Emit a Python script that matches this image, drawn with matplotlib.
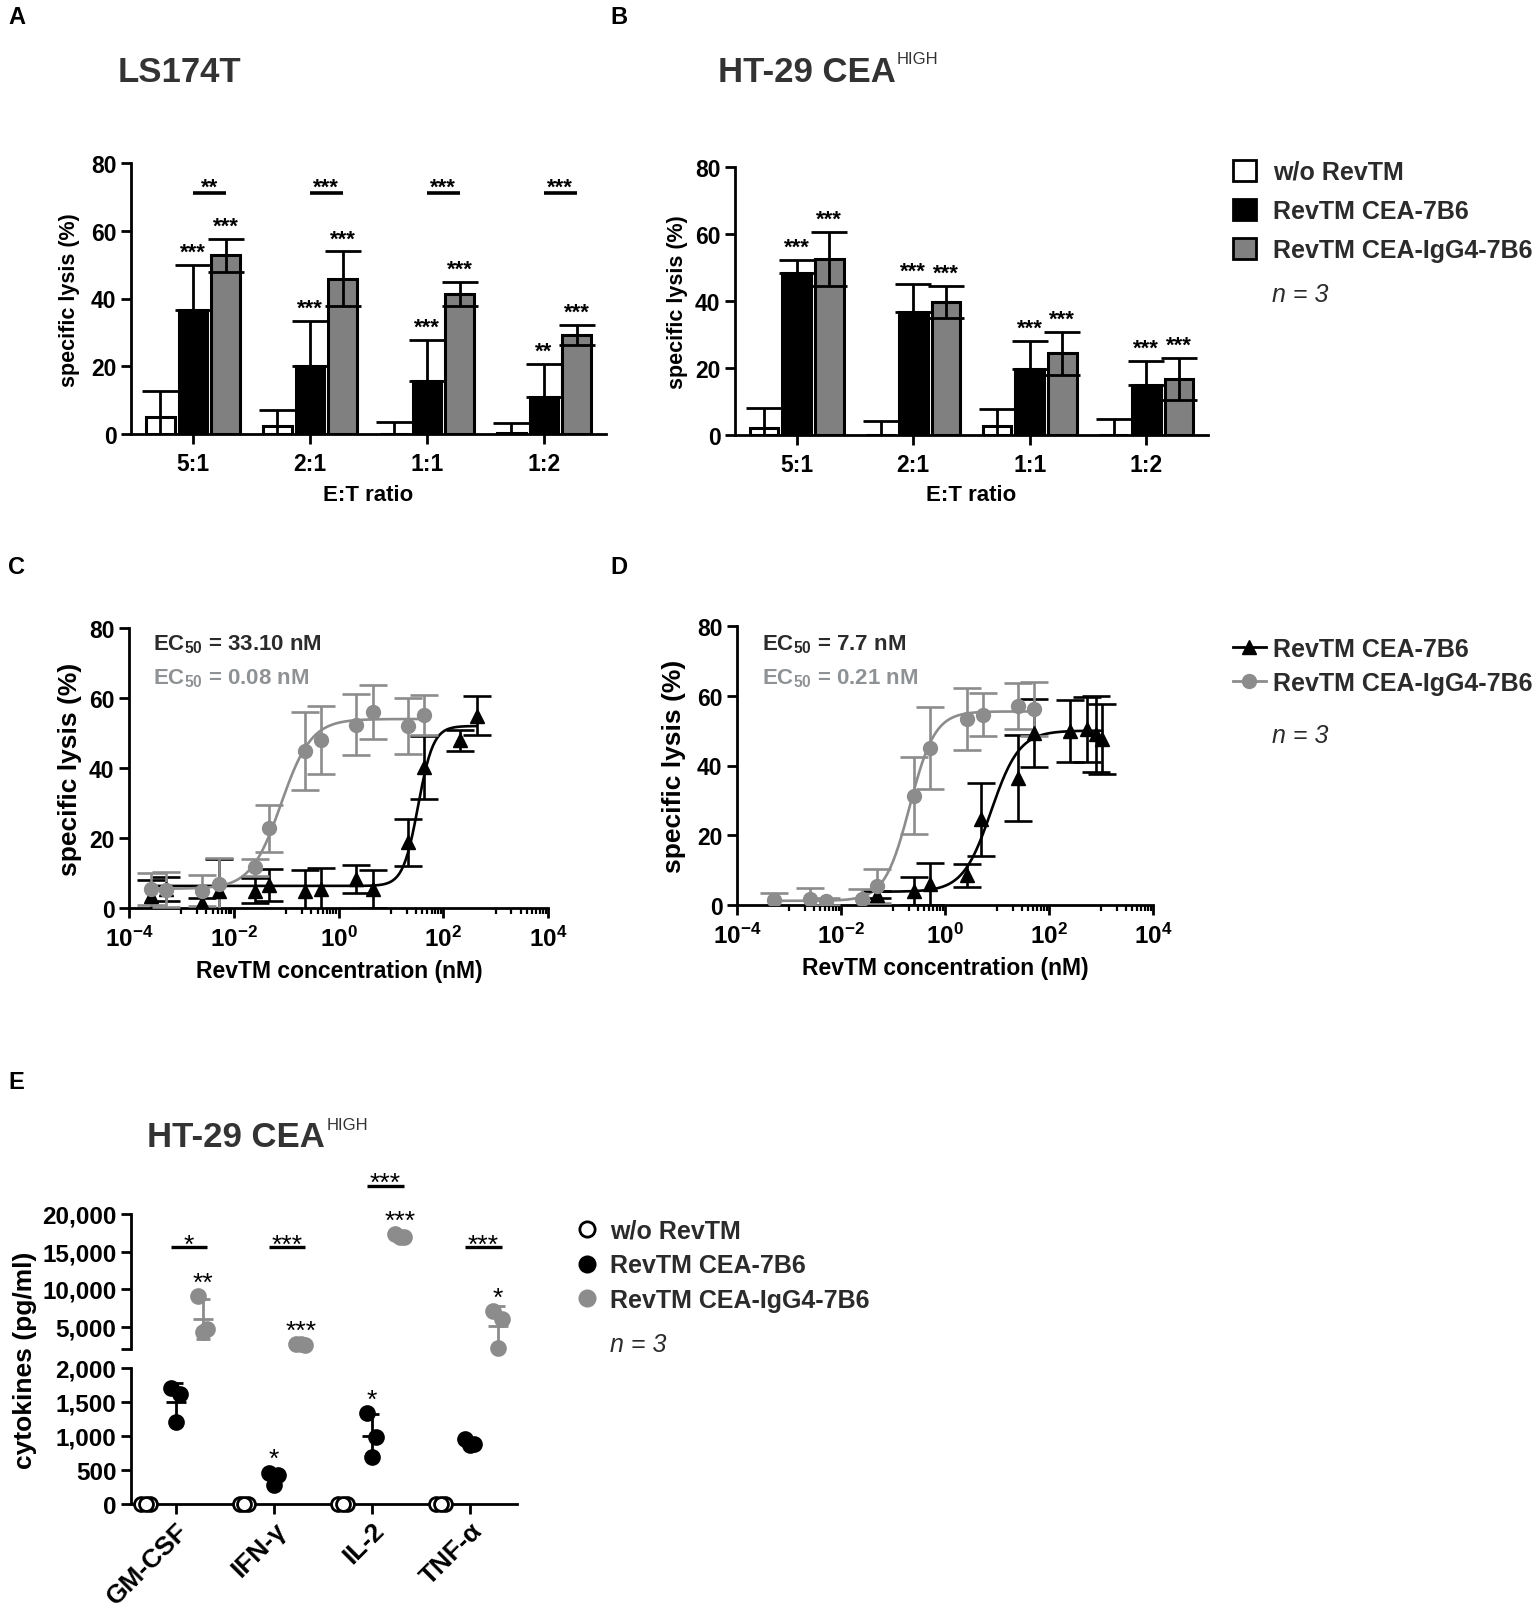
import numpy as np
import matplotlib.pyplot as plt
from matplotlib.patches import Patch
from matplotlib.lines import Line2D
from matplotlib.ticker import FixedLocator, FuncFormatter, NullFormatter

plt.rcParams['font.family'] = ['Liberation Sans', 'DejaVu Sans']
plt.rcParams['font.weight'] = 'bold'
plt.rcParams['axes.labelweight'] = 'bold'
plt.rcParams['mathtext.fontset'] = 'custom'
plt.rcParams['mathtext.rm'] = 'Liberation Sans:bold'
plt.rcParams['mathtext.bf'] = 'Liberation Sans:bold'
plt.rcParams['mathtext.it'] = 'Liberation Sans:bold:italic'
plt.rcParams['mathtext.sf'] = 'Liberation Sans:bold'
plt.rcParams['mathtext.default'] = 'rm'
plt.rcParams['axes.linewidth'] = 2.0
plt.rcParams['xtick.major.width'] = 2.0
plt.rcParams['ytick.major.width'] = 2.0
plt.rcParams['xtick.minor.width'] = 1.6
plt.rcParams['xtick.major.size'] = 7
plt.rcParams['ytick.major.size'] = 7
plt.rcParams['xtick.minor.size'] = 4.5

# ---- data ----
ratios = ['5:1', '2:1', '1:1', '1:2']

# A: LS174T, specific lysis (%) mean and SD
ls_wo = [5.1, 2.4, 0.0, 0.2]
ls_wo_sd = [7.6, 4.7, 3.6, 3.0]
ls_7b6 = [36.6, 20.2, 15.5, 10.8]
ls_7b6_sd = [13.4, 13.1, 12.3, 9.8]
ls_igg4 = [52.7, 45.8, 41.4, 29.3]
ls_igg4_sd = [4.8, 8.1, 3.6, 3.0]
ls_sig_7b6 = ['***', '***', '***', '**']
ls_sig_igg4 = ['***', '***', '***', '***']
ls_sig_pair = ['**', '***', '***', '***']

# B: HT-29 CEA high
ht_wo = [2.0, 0.0, 2.7, 0.0]
ht_wo_sd = [6.0, 4.3, 5.0, 4.9]
ht_7b6 = [48.4, 36.7, 19.6, 15.0]
ht_7b6_sd = [3.9, 8.5, 8.5, 7.2]
ht_igg4 = [52.6, 39.7, 24.4, 16.8]
ht_igg4_sd = [8.1, 4.8, 6.4, 6.3]
ht_sig_7b6 = ['***', '***', '***', '***']
ht_sig_igg4 = ['***', '***', '***', '***']

# C: dose response on LS174T (nM)
c_conc_7b6 = [2.6e-4, 5.1e-4, 2.5e-3, 5.2e-3, 0.025, 0.048, 0.23, 0.46, 2.2, 4.5, 21, 43, 209, 436]
c_7b6 = [3.5, 5.5, 1.5, 5.0, 5.0, 6.6, 5.0, 5.4, 8.3, 5.4, 18.8, 40.2, 47.9, 55.0]
c_7b6_sd = [4.5, 3.5, 1.5, 9.0, 3.6, 4.5, 5.8, 6.0, 4.0, 5.5, 6.7, 9.0, 3.0, 5.5]
c_conc_igg4 = [2.6e-4, 5.1e-4, 2.5e-3, 5.2e-3, 0.025, 0.048, 0.23, 0.46, 2.2, 4.5, 21, 43]
c_igg4 = [5.4, 5.2, 5.0, 6.9, 11.6, 22.8, 44.8, 48.0, 52.4, 56.0, 51.9, 55.2]
c_igg4_sd = [4.5, 5.0, 4.5, 7.5, 2.5, 6.7, 11.2, 9.6, 8.7, 7.7, 8.0, 5.8]
# fitted curves: bottom, top, EC50, hill
c_fit_7b6 = (6.3, 52.0, 33.10, 3.0)
c_fit_igg4 = (5.5, 54.0, 0.08, 1.5)

# D: dose response on HT-29 CEA high
d_conc_7b6 = [0.05, 0.25, 0.52, 2.6, 5.0, 25, 52, 255, 540, 790, 1050]
d_7b6 = [3.0, 4.0, 5.9, 8.5, 24.6, 36.5, 49.4, 50.0, 50.4, 49.0, 47.5]
d_7b6_sd = [1.0, 4.0, 6.0, 3.3, 10.5, 12.3, 9.7, 8.9, 9.3, 10.9, 10.0]
d_conc_igg4 = [5.1e-4, 2.5e-3, 5.2e-3, 0.025, 0.05, 0.25, 0.52, 2.6, 5.4, 25, 52]
d_igg4 = [1.3, 1.8, 1.1, 1.8, 5.4, 31.3, 45.0, 53.3, 54.6, 57.0, 56.1]
d_igg4_sd = [2.0, 3.0, 1.0, 2.7, 4.8, 11.0, 11.8, 8.8, 6.2, 6.6, 7.7]
d_fit_7b6 = (3.8, 50.0, 7.7, 1.6)
d_fit_igg4 = (1.2, 55.5, 0.21, 1.8)

# E: cytokines (pg/ml), three donors
cytokines = ['GM-CSF', 'IFN-γ', 'IL-2', 'TNF-α']
cy_wo = [[0, 0, 0], [0, 0, 0], [0, 0, 0], [0, 0, 0]]
cy_7b6 = [[1700, 1620, 1200], [460, 425, 275], [1335, 985, 685], [950, 880, 870]]
cy_igg4 = [[9100, 4700, 4300], [2700, 2550, 2650], [17300, 17000, 16900], [7100, 6000, 2100]]
cy_sig_7b6 = ['', '*', '*', '']
cy_sig_igg4 = ['**', '***', '***', '*']
cy_sig_pair = ['*', '***', '***', '***']

labels = ['w/o RevTM', 'RevTM CEA-7B6', 'RevTM CEA-IgG4-7B6']

GRAY_BAR = '#808080'
GRAY = '#8c8c8c'
TXT = '#2b2b2b'

W, H = 1535, 1615
fig = plt.figure(figsize=(W / 100, H / 100), dpi=100)


def box(l, t, r, b):
    return [l / W, 1 - b / H, (r - l) / W, (b - t) / H]


def fx(x):
    return x / W


def fy(y):
    return 1 - y / H


def style_axes(ax):
    ax.spines['top'].set_visible(False)
    ax.spines['right'].set_visible(False)
    ax.tick_params(colors='black', direction='out')


def bar_panel(ax, means, sds, sig_7b6, sig_igg4, sig_pair=None):
    style_axes(ax)
    x = np.arange(len(ratios))
    offs = [-0.28, 0.0, 0.28]
    fills = ['white', 'black', GRAY_BAR]
    # black bars only show the upper half of their error bar
    errs = [sds[0], [np.zeros(len(x)), sds[1]], sds[2]]
    for m, s, off, fc in zip(means, errs, offs, fills):
        ax.bar(x + off, m, 0.245, yerr=s, color=fc, edgecolor='black', linewidth=2.2,
               error_kw=dict(elinewidth=2.0, capsize=13, capthick=2.0, ecolor='black'), zorder=2)
    for off, m, s, sig in ((0.0, means[1], sds[1], sig_7b6), (0.28, means[2], sds[2], sig_igg4)):
        for xi, v, e, t in zip(x, m, s, sig):
            ax.annotate(t, (xi + off, v + e), xytext=(0, 1.5), textcoords='offset points',
                        ha='center', va='bottom', fontsize=16)
    if sig_pair:
        for xi, t in zip(x, sig_pair):
            ax.plot([xi, xi + 0.28], [71, 71], color='black', lw=2.6, solid_capstyle='butt')
            ax.annotate(t, (xi + 0.14, 71), xytext=(0, -3.3), textcoords='offset points',
                        ha='center', va='bottom', fontsize=16)
    ax.set_xlim(-0.53, 3.53)
    ax.set_ylim(0, 80)
    ax.set_yticks(range(0, 81, 20))
    ax.set_xticks(x, ratios)
    ax.tick_params(axis='y', labelsize=16.5)
    ax.tick_params(axis='x', labelsize=16.5, pad=6)
    ax.set_ylabel('specific lysis (%)', fontsize=15.5, va='center')
    ax.set_xlabel('E:T ratio', fontsize=16, va='center')


def four_pl(x, bottom, top, ec50, hill):
    return bottom + (top - bottom) / (1 + (ec50 / x) ** hill)


def dose_panel(ax, series):
    style_axes(ax)
    for conc, y, sd, fit, col, mk in series:
        xs = np.logspace(np.log10(conc[0]), np.log10(conc[-1]), 300)
        ax.plot(xs, four_pl(xs, *fit), color=col, lw=1.9, zorder=2)
        ax.errorbar(conc, y, yerr=sd, fmt=mk, color=col, ms=10, elinewidth=1.9,
                    capsize=10, capthick=1.9, zorder=3)
    ax.set_xscale('log')
    ax.set_xlim(1e-4, 1e4)
    ax.set_ylim(0, 80)
    ax.set_yticks(range(0, 81, 20))
    ax.xaxis.set_major_locator(FixedLocator([1e-4, 1e-2, 1e0, 1e2, 1e4]))
    ax.xaxis.set_major_formatter(FuncFormatter(lambda v, p: r'$10^{%d}$' % round(np.log10(v))))
    minor = [m * 10.0 ** k for k in (-3, -1, 1, 3) for m in range(1, 10)]
    ax.xaxis.set_minor_locator(FixedLocator(minor))
    ax.xaxis.set_minor_formatter(NullFormatter())
    ax.tick_params(axis='y', labelsize=16.5)
    ax.tick_params(axis='x', which='major', labelsize=17.5, pad=6)
    ax.set_ylabel('specific lysis (%)', fontsize=19, va='center')
    ax.set_xlabel('RevTM concentration (nM)', fontsize=16.5, va='center')


# ---- A ----
axA = fig.add_axes(box(131, 164, 606, 435))
bar_panel(axA, (ls_wo, ls_7b6, ls_igg4), (ls_wo_sd, ls_7b6_sd, ls_igg4_sd),
          ls_sig_7b6, ls_sig_igg4, ls_sig_pair)
axA.yaxis.set_label_coords(fx(70), fy(300), transform=fig.transFigure)
axA.xaxis.set_label_coords(fx(368), fy(496), transform=fig.transFigure)

# ---- B ----
axB = fig.add_axes(box(735, 168, 1208, 436))
bar_panel(axB, (ht_wo, ht_7b6, ht_igg4), (ht_wo_sd, ht_7b6_sd, ht_igg4_sd),
          ht_sig_7b6, ht_sig_igg4)
axB.yaxis.set_label_coords(fx(678), fy(302), transform=fig.transFigure)
axB.xaxis.set_label_coords(fx(971), fy(496), transform=fig.transFigure)

# ---- C ----
axC = fig.add_axes(box(129, 629, 548, 909))
dose_panel(axC, [(c_conc_7b6, c_7b6, c_7b6_sd, c_fit_7b6, 'black', '^'),
                 (c_conc_igg4, c_igg4, c_igg4_sd, c_fit_igg4, GRAY, 'o')])
axC.yaxis.set_label_coords(fx(70), fy(769), transform=fig.transFigure)
axC.xaxis.set_label_coords(fx(339), fy(972), transform=fig.transFigure)
fig.text(fx(153), fy(650), r'EC$_{50}$ = 33.10 nM', fontsize=16, color=TXT)
fig.text(fx(153), fy(684), r'EC$_{50}$ = 0.08 nM', fontsize=16, color='#8f9295')

# ---- D ----
axD = fig.add_axes(box(737, 627, 1153, 906))
dose_panel(axD, [(d_conc_7b6, d_7b6, d_7b6_sd, d_fit_7b6, 'black', '^'),
                 (d_conc_igg4, d_igg4, d_igg4_sd, d_fit_igg4, GRAY, 'o')])
axD.yaxis.set_label_coords(fx(674), fy(766), transform=fig.transFigure)
axD.xaxis.set_label_coords(fx(945), fy(969), transform=fig.transFigure)
fig.text(fx(762), fy(650), r'EC$_{50}$ = 7.7 nM', fontsize=16, color=TXT)
fig.text(fx(762), fy(684), r'EC$_{50}$ = 0.21 nM', fontsize=16, color='#8f9295')

# ---- E (broken y axis) ----
BREAK = 2000
axU = fig.add_axes(box(131, 1215, 517, 1350))
axL = fig.add_axes(box(131, 1369, 517, 1505))
comma = FuncFormatter(lambda v, p: '' if v == BREAK and p == 0 else f'{v:,.0f}')
for ax in (axU, axL):
    style_axes(ax)
    ax.set_xlim(-0.455, 3.475)
    ax.tick_params(axis='y', labelsize=17.5)
axU.spines['bottom'].set_visible(False)
axU.tick_params(axis='x', bottom=False, labelbottom=False)
axU.set_ylim(BREAK, 20000)
axU.yaxis.set_major_locator(FixedLocator([BREAK, 5000, 10000, 15000, 20000]))
axU.yaxis.set_major_formatter(comma)
axL.set_ylim(0, BREAK)
axL.yaxis.set_major_locator(FixedLocator(range(0, BREAK + 1, 500)))
axL.yaxis.set_major_formatter(FuncFormatter(lambda v, p: f'{v:,.0f}'))
xe = np.arange(len(cytokines))
axL.set_xticks(xe)
axL.set_xticklabels(cytokines, rotation=45, ha='right', va='top', rotation_mode='anchor', fontsize=19)
axL.tick_params(axis='x', pad=3)
axL.set_ylabel('cytokines (pg/ml)', fontsize=19, va='center')
axL.yaxis.set_label_coords(fx(25), fy(1360), transform=fig.transFigure)

jit = np.array([-0.05, 0.04, 0.0])
groups = [(cy_wo, -0.30, 'white', 'black'), (cy_7b6, 0.0, 'black', 'black'), (cy_igg4, 0.28, GRAY, GRAY)]
for vals, off, fc, ec in groups:
    for xi, v in zip(xe, vals):
        v = np.asarray(v, float)
        ax = axU if v.mean() >= BREAK else axL
        ax.plot(xi + off + jit, v, 'o', ms=10, mfc=fc, mec=ec, mew=2, clip_on=False, zorder=4)
        if v.std() > 0:
            ax.errorbar(xi + off, v.mean(), yerr=v.std(ddof=1), fmt='_', ms=14, mew=2, color=ec,
                        elinewidth=2, capsize=5, capthick=2, zorder=5)

for off, vals, sig in ((0.0, cy_7b6, cy_sig_7b6), (0.28, cy_igg4, cy_sig_igg4)):
    for xi, v, t in zip(xe, vals, sig):
        if t:
            ax = axU if np.mean(v) >= BREAK else axL
            ax.annotate(t, (xi + off, max(v)), xytext=(0, 1), textcoords='offset points',
                        ha='center', va='bottom', fontsize=19, fontweight='normal',
                        annotation_clip=False)

for xi, ig, t in zip(xe, cy_igg4, cy_sig_pair):
    yb = max(15600, max(ig) + 6500)
    axU.plot([xi - 0.05, xi + 0.32], [yb, yb], color='black', lw=2.4, clip_on=False,
             solid_capstyle='butt')
    axU.annotate(t, (xi + 0.135, yb), xytext=(0, -7), textcoords='offset points',
                 ha='center', va='bottom', fontsize=19, fontweight='normal', annotation_clip=False)

# ---- titles and panel letters ----
fig.text(fx(118), fy(82), 'LS174T', fontsize=25, color='#333333')
fig.text(fx(718), fy(82), 'HT-29 CEA', fontsize=25, color='#333333')
fig.text(fx(897), fy(64), 'HIGH', fontsize=12, fontweight='normal', color='#333333')
fig.text(fx(147), fy(1147), 'HT-29 CEA', fontsize=25, color='#333333')
fig.text(fx(327), fy(1130), 'HIGH', fontsize=12, fontweight='normal', color='#333333')
for letter, (lx, ly) in zip('ABCDE', [(8, 24), (610, 24), (8, 574), (610, 574), (8, 1089)]):
    fig.text(fx(lx), fy(ly), letter, fontsize=17, color='black')

# ---- legends ----
bar_handles = [Patch(facecolor=c, edgecolor='black', linewidth=2) for c in ('white', 'black', GRAY_BAR)]
fig.legend(bar_handles, labels, loc='upper left', bbox_to_anchor=(fx(1233), fy(161)),
           frameon=False, fontsize=18, labelcolor=TXT, handlelength=0.9, handleheight=0.9,
           handletextpad=0.7, labelspacing=0.6, borderpad=0, borderaxespad=0)
fig.text(fx(1272), fy(295), 'n = 3', style='italic', fontweight='normal', fontsize=18,
         color=TXT, va='center')

line_handles = [Line2D([], [], color='black', marker='^', ms=10, lw=2),
                Line2D([], [], color=GRAY, marker='o', ms=10, lw=2)]
fig.legend(line_handles, labels[1:], loc='upper left', bbox_to_anchor=(fx(1233), fy(638)),
           frameon=False, fontsize=18, labelcolor=TXT, handlelength=1.3,
           handletextpad=0.3, labelspacing=0.4, borderpad=0, borderaxespad=0)
fig.text(fx(1272), fy(736), 'n = 3', style='italic', fontweight='normal', fontsize=18,
         color=TXT, va='center')

dot_handles = [Line2D([], [], ls='none', marker='o', ms=11, mfc=fc, mec=ec, mew=2)
               for fc, ec in (('white', 'black'), ('black', 'black'), (GRAY, GRAY))]
fig.legend(dot_handles, labels, loc='upper left', bbox_to_anchor=(fx(574), fy(1220)),
           frameon=False, fontsize=18, labelcolor=TXT, handlelength=1.0,
           handletextpad=0.45, labelspacing=0.42, borderpad=0, borderaxespad=0)
fig.text(fx(610), fy(1345), 'n = 3', style='italic', fontweight='normal', fontsize=18,
         color=TXT, va='center')

fig.savefig('out.png', dpi=100)
